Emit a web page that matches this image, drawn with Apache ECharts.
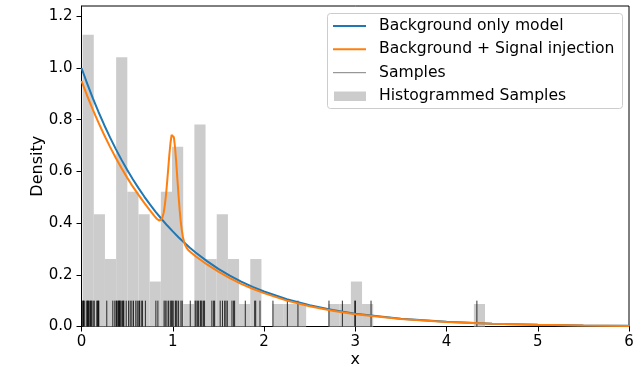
<!DOCTYPE html>
<html><head><meta charset="utf-8">
<script src="https://cdn.jsdelivr.net/npm/echarts@6/dist/echarts.min.js"></script>
<style>html,body{margin:0;padding:0;background:#fff}#c{width:643px;height:367px}</style>
</head><body><div id="c"></div>
<script>
const xTicks = [0, 1, 2, 3, 4, 5, 6];
const yTicks = [0, 0.2, 0.4, 0.6, 0.8, 1.0, 1.2];
const binStart = 0.012;
const binWidth = 0.1225;
const histDensity = [1.129, 0.434, 0.261, 1.042, 0.521, 0.434, 0.174, 0.521, 0.695, 0.087,
  0.782, 0.261, 0.434, 0.261, 0.087, 0.261, 0, 0.087, 0.087, 0.087,
  0, 0, 0.087, 0.087, 0.174, 0.087, 0, 0, 0, 0, 0, 0, 0, 0, 0, 0.087];
const samples = [0.013, 0.018, 0.022, 0.035, 0.058, 0.064, 0.069, 0.077, 0.085, 0.099, 0.105, 0.113, 0.128,
  0.14, 0.168, 0.175, 0.186, 0.19,
  0.277, 0.343, 0.365,
  0.380, 0.385, 0.398, 0.405, 0.413, 0.418, 0.424, 0.435, 0.450, 0.458, 0.464, 0.49,
  0.516, 0.534, 0.552, 0.570, 0.595, 0.611,
  0.628, 0.636, 0.655, 0.669, 0.70,
  0.815, 0.837,
  0.905, 0.918, 0.936, 0.954, 0.973, 0.985,
  0.995, 1.005, 1.028, 1.036, 1.046, 1.064, 1.09, 1.104,
  1.192,
  1.245, 1.255, 1.27, 1.283, 1.302, 1.31, 1.320, 1.338, 1.349,
  1.429, 1.448, 1.459,
  1.52, 1.545, 1.569, 1.583, 1.598,
  1.649, 1.667, 1.678,
  1.795,
  1.898, 1.909, 1.956,
  2.098, 2.256, 2.372, 2.712, 2.859, 2.995, 3.002, 3.173, 4.333];
const bgX = [0, 0.0625, 0.125, 0.1875, 0.25, 0.3125, 0.375, 0.4375, 0.5, 0.5625, 0.625, 0.6875, 0.75, 0.8125, 0.875, 0.9375, 1.0, 1.0625, 1.125, 1.1875, 1.25, 1.375, 1.5, 1.625, 1.75, 1.875, 2.0, 2.25, 2.5, 2.75, 3.0, 3.5, 4.0, 4.5, 5.0, 5.5, 6.0];
const bgY = [1.000, 0.9394, 0.8825, 0.8290, 0.7788, 0.7316, 0.6873, 0.6456, 0.6065, 0.5698, 0.5353, 0.5028, 0.4724, 0.4437, 0.4169, 0.3916, 0.3679, 0.3456, 0.3247, 0.3050, 0.2865, 0.2528, 0.2231, 0.1969, 0.1738, 0.1534, 0.1353, 0.1054, 0.0821, 0.0639, 0.0498, 0.0302, 0.0183, 0.0111, 0.0067, 0.0041, 0.0025];
const sigX = [0, 0.0625, 0.125, 0.1875, 0.25, 0.3125, 0.375, 0.4375, 0.5, 0.5625, 0.625, 0.6875, 0.75, 0.8, 0.825, 0.85, 0.8625, 0.875, 0.8875, 0.9, 0.9125, 0.925, 0.9375, 0.95, 0.9625, 0.975, 0.9875, 1.0,
  1.0125, 1.025, 1.0375, 1.05, 1.0625, 1.075, 1.0875, 1.1, 1.1125, 1.125, 1.1375, 1.15, 1.175, 1.2, 1.25, 1.375, 1.5, 1.625, 1.75, 1.875, 2.0, 2.25, 2.5, 2.75, 3.0, 3.5, 4.0, 4.5, 5.0, 5.5, 6.0];
const sigY = [0.950, 0.892, 0.838, 0.788, 0.740, 0.695, 0.653, 0.613, 0.576, 0.541, 0.509, 0.478, 0.449, 0.427, 0.417, 0.410, 0.410, 0.414, 0.423, 0.440, 0.468, 0.506, 0.555, 0.609, 0.664, 0.710, 0.741, 0.748,
  0.732, 0.693, 0.638, 0.574, 0.511, 0.454, 0.406, 0.370, 0.344, 0.326, 0.314, 0.305, 0.294, 0.286, 0.272, 0.240, 0.212, 0.187, 0.165, 0.146, 0.129, 0.100, 0.078, 0.061, 0.047, 0.029, 0.017, 0.0105, 0.0064, 0.0039, 0.0024];
const rugHeight = 0.1;
const legendLabels = ['Background only model', 'Background + Signal injection', 'Samples', 'Histogrammed Samples'];

const FONT = 'DejaVu Sans';
const chart = echarts.init(document.getElementById('c'), null, {renderer: 'canvas'});

const histData = histDensity.map((h, i) => [binStart + i * binWidth, binStart + (i + 1) * binWidth, h]).filter(d => d[2] > 0);
const rugData = samples.map(s => [s, rugHeight]);

const legendRows = [26, 49.3, 72.7, 96];
const lx1 = 333, lx2 = 366, ltx = 379;
const graphics = [
  {type: 'rect', z: 100, shape: {x: 327.5, y: 13.5, width: 295, height: 95, r: 3},
   style: {fill: 'rgba(255,255,255,0.8)', stroke: '#cccccc', lineWidth: 1}},
  {type: 'line', z: 101, shape: {x1: lx1, y1: legendRows[0], x2: lx2, y2: legendRows[0]}, style: {stroke: '#1f77b4', lineWidth: 2}},
  {type: 'line', z: 101, shape: {x1: lx1, y1: legendRows[1], x2: lx2, y2: legendRows[1]}, style: {stroke: '#ff7f0e', lineWidth: 2}},
  {type: 'line', z: 101, shape: {x1: lx1, y1: legendRows[2], x2: lx2, y2: legendRows[2]}, style: {stroke: 'rgba(0,0,0,0.5)', lineWidth: 1}},
  {type: 'rect', z: 101, shape: {x: 334, y: legendRows[3] - 4.5, width: 32, height: 9.5}, style: {fill: '#cccccc'}}
];
legendLabels.forEach((t, i) => {
  graphics.push({type: 'text', z: 101, x: ltx, y: legendRows[i],
    style: {text: t, fill: '#000', font: '15.6px "' + FONT + '"', verticalAlign: 'middle', align: 'left'}});
});

chart.setOption({
  animation: false,
  backgroundColor: '#fff',
  grid: {left: 81.5, right: 14, top: 6, bottom: 40.5, show: true, borderColor: '#000', borderWidth: 1,
         backgroundColor: 'transparent', containLabel: false, outerBoundsMode: 'none'},
  xAxis: {
    type: 'value', min: 0, max: 6, interval: 1,
    name: 'x', nameLocation: 'middle', nameGap: 25, nameMoveOverlap: false,
    nameTextStyle: {fontFamily: FONT, fontSize: 16, color: '#000'},
    axisLine: {show: true, onZero: false, lineStyle: {color: '#000', width: 1}},
    axisTick: {show: true, length: 5, lineStyle: {color: '#000'}, customValues: xTicks},
    axisLabel: {fontFamily: FONT, fontSize: 15, color: '#000', margin: 8.5, customValues: xTicks, formatter: v => String(v)},
    splitLine: {show: false}
  },
  yAxis: {
    type: 'value', min: 0, max: 1.24,
    name: 'Density', nameLocation: 'middle', nameGap: 36, nameMoveOverlap: false,
    nameTextStyle: {fontFamily: FONT, fontSize: 16, color: '#000'},
    axisLine: {show: true, onZero: false, lineStyle: {color: '#000', width: 1}},
    axisTick: {show: true, length: 5, lineStyle: {color: '#000'}, customValues: yTicks},
    axisLabel: {fontFamily: FONT, fontSize: 15, color: '#000', margin: 9, customValues: yTicks, formatter: v => v.toFixed(1)},
    splitLine: {show: false}
  },
  graphic: graphics,
  series: [
    {
      name: legendLabels[3], type: 'custom', z: 1, data: histData,
      encode: {x: [0, 1], y: 2},
      renderItem: (params, api) => {
        const p0 = api.coord([api.value(0), api.value(2)]);
        const p1 = api.coord([api.value(1), 0]);
        return {type: 'rect', shape: {x: p0[0], y: p0[1], width: p1[0] - p0[0], height: p1[1] - p0[1]}, style: {fill: '#cccccc'}};
      }
    },
    {
      name: legendLabels[2], type: 'custom', z: 2, data: rugData,
      encode: {x: 0, y: 1},
      renderItem: (params, api) => {
        const p0 = api.coord([api.value(0), 0]);
        const p1 = api.coord([api.value(0), api.value(1)]);
        return {type: 'line', shape: {x1: p0[0], y1: p0[1], x2: p1[0], y2: p1[1]}, style: {stroke: 'rgba(0,0,0,0.8)', lineWidth: 1}};
      }
    },
    {
      name: legendLabels[0], type: 'line', z: 3, data: bgX.map((x, i) => [x, bgY[i]]),
      showSymbol: false, symbol: 'none', smooth: false,
      lineStyle: {color: '#1f77b4', width: 2}
    },
    {
      name: legendLabels[1], type: 'line', z: 4, data: sigX.map((x, i) => [x, sigY[i]]),
      showSymbol: false, symbol: 'none', smooth: false,
      lineStyle: {color: '#ff7f0e', width: 2}
    }
  ]
});
</script>
</body></html>
